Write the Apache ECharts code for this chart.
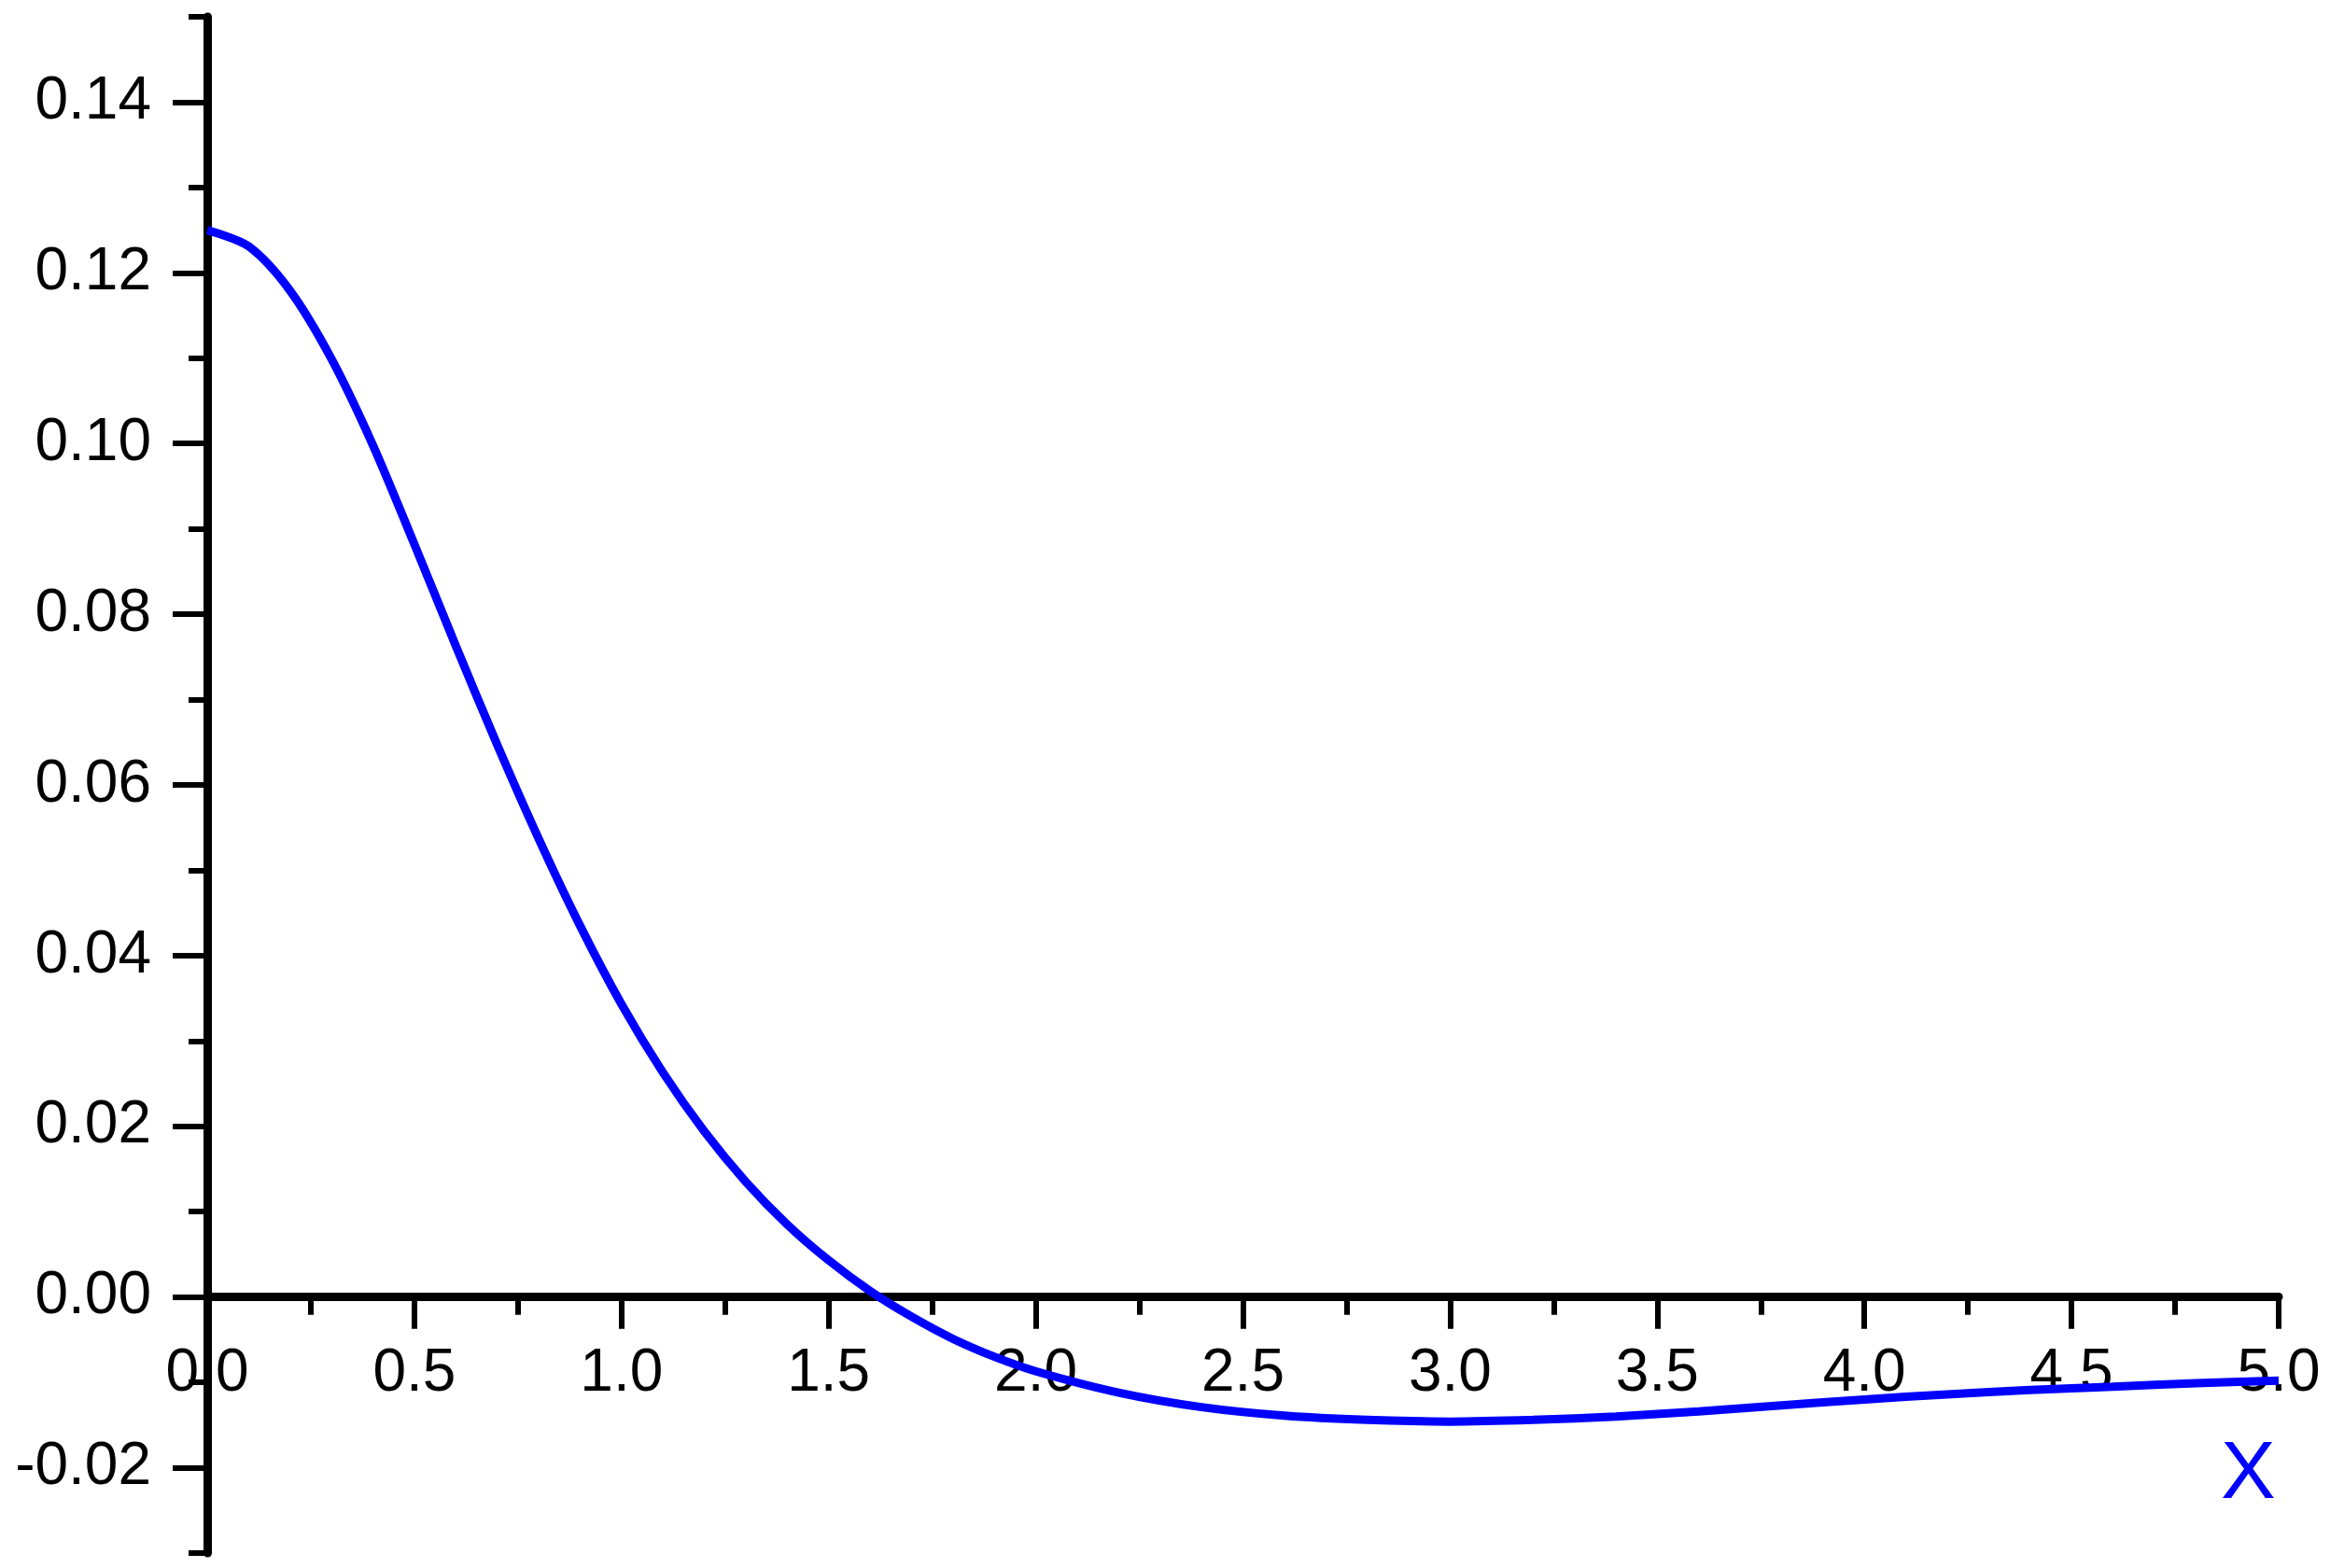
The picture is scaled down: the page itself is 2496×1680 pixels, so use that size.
<!DOCTYPE html>
<html>
<head>
<meta charset="utf-8">
<title>curve</title>
<script src="https://cdn.jsdelivr.net/npm/echarts@6/dist/echarts.min.js"></script>
<style>
  html, body { margin: 0; padding: 0; background: #fff; }
  #chart { width: 2496px; height: 1680px; }
</style>
</head>
<body>
<div id="chart"></div>
<script>
  // values
  const xValues = [0, 0.1, 0.2, 0.3, 0.4, 0.5, 0.6, 0.7, 0.8, 0.9,
    1.0, 1.1, 1.2, 1.3, 1.4, 1.5, 1.6, 1.7, 1.8, 1.9,
    2.0, 2.2, 2.4, 2.6, 2.8, 3.0, 3.2, 3.4, 3.6, 3.8,
    4.0, 4.2, 4.4, 4.6, 4.8, 5.0];
  const yValues = [0.1250, 0.1231, 0.1179, 0.1099, 0.0998, 0.0882, 0.0763, 0.0647, 0.0537, 0.0435,
    0.0343, 0.0263, 0.0194, 0.0135, 0.0085, 0.0043, 0.0007, -0.0023, -0.0049, -0.0070,
    -0.0087, -0.0112, -0.0129, -0.0139, -0.0144, -0.0146, -0.0144, -0.0140, -0.0134, -0.0127,
    -0.0120, -0.0114, -0.0109, -0.0105, -0.0101, -0.0098];

  // tick labels
  const yMajorTicks = [-0.02, 0, 0.02, 0.04, 0.06, 0.08, 0.10, 0.12, 0.14];
  const yMinorTicks = [-0.03, -0.01, 0.01, 0.03, 0.05, 0.07, 0.09, 0.11, 0.13, 0.15];
  const xAxisName = 'X';

  const font = '"Liberation Sans", Arial, sans-serif';
  const axisColor = '#000';

  const points = [];
  for (let i = 0; i < xValues.length; i++) {
    points.push([xValues[i], yValues[i]]);
  }

  // y range of the plot, the x axis sits on y = 0
  const yMin = -0.03;
  const yMax = 0.15;
  const plotTop = 18;
  const plotBottom = 1664;
  const zeroY = plotTop + (yMax - 0) / (yMax - yMin) * (plotBottom - plotTop);

  const myChart = echarts.init(document.getElementById('chart'));
  const option = {
    animation: false,
    backgroundColor: '#fff',
    title: {
      text: xAxisName,
      left: 2374,
      top: 1532,
      textStyle: {
        color: '#0000ff',
        fontSize: 88,
        fontWeight: 'normal',
        fontFamily: font
      }
    },
    grid: [
      {
        // curve + y axis
        left: 222,
        right: 55,
        top: plotTop,
        bottom: 1680 - plotBottom,
        containLabel: false,
        outerBoundsMode: 'none'
      },
      {
        // x axis drawn on y = 0
        left: 222,
        right: 55,
        top: plotTop,
        bottom: 1680 - zeroY,
        containLabel: false,
        outerBoundsMode: 'none'
      }
    ],
    xAxis: [
      {
        type: 'value',
        gridIndex: 0,
        min: 0,
        max: 5,
        show: false
      },
      {
        type: 'value',
        gridIndex: 1,
        min: 0,
        max: 5,
        interval: 0.5,
        position: 'bottom',
        axisLine: {
          onZero: false,
          lineStyle: {color: axisColor, width: 9}
        },
        axisTick: {
          length: 34,
          lineStyle: {color: axisColor, width: 6}
        },
        minorTick: {
          show: true,
          splitNumber: 2,
          length: 19,
          lineStyle: {color: axisColor, width: 6}
        },
        splitLine: {show: false},
        axisLabel: {
          margin: 51,
          showMinLabel: true,
          showMaxLabel: true,
          hideOverlap: false,
          color: axisColor,
          fontSize: 64,
          fontFamily: font,
          formatter: function (v) {
            return v.toFixed(1);
          }
        }
      }
    ],
    yAxis: [
      {
        type: 'value',
        gridIndex: 0,
        min: yMin,
        max: yMax,
        position: 'left',
        axisLine: {
          show: true,
          onZero: false,
          lineStyle: {color: axisColor, width: 9}
        },
        axisTick: {
          customValues: yMajorTicks,
          length: 37,
          lineStyle: {color: axisColor, width: 6}
        },
        splitLine: {show: false},
        axisLabel: {
          customValues: yMajorTicks,
          margin: 60,
          color: axisColor,
          fontSize: 64,
          fontFamily: font,
          formatter: function (v) {
            return v.toFixed(2);
          }
        }
      },
      {
        // minor ticks only
        type: 'value',
        gridIndex: 0,
        min: yMin,
        max: yMax,
        position: 'left',
        offset: 0,
        axisLine: {show: false, onZero: false},
        axisTick: {
          customValues: yMinorTicks,
          length: 20,
          lineStyle: {color: axisColor, width: 6}
        },
        axisLabel: {show: false},
        splitLine: {show: false}
      },
      {
        type: 'value',
        gridIndex: 1,
        min: 0,
        max: 1,
        show: false
      }
    ],
    series: [
      {
        type: 'line',
        xAxisIndex: 0,
        yAxisIndex: 0,
        data: points,
        smooth: 0.3,
        showSymbol: false,
        lineStyle: {color: '#0000ff', width: 9},
        itemStyle: {color: '#0000ff'}
      }
    ]
  };
  myChart.setOption(option);
</script>
</body>
</html>
